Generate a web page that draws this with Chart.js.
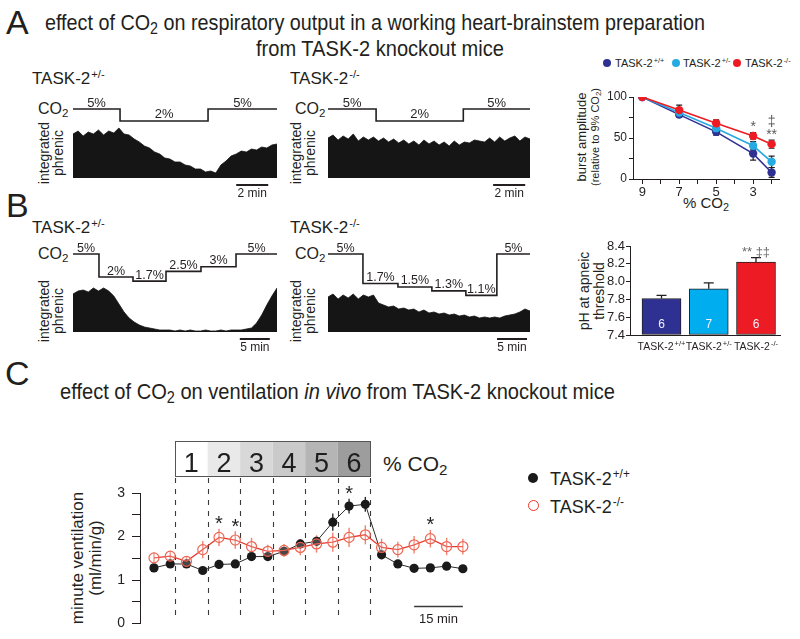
<!DOCTYPE html>
<html><head><meta charset="utf-8">
<script src="https://cdn.jsdelivr.net/npm/chart.js@4.4.1/dist/chart.umd.min.js"></script>
<style>
html,body{margin:0;padding:0;background:#fff;}
#fig{position:relative;width:800px;height:639px;overflow:hidden;background:#fff;font-family:"Liberation Sans",Arial,Helvetica,sans-serif;color:#231f20;}
.t{position:absolute;white-space:nowrap;line-height:1;}
.nar{font-family:"Liberation Sans Narrow","Liberation Sans",Arial,sans-serif;}
canvas{position:absolute;}
.sup{font-size:0.66em;position:relative;top:-0.55em;margin-left:1px;}
.sub{font-size:0.72em;position:relative;top:0.28em;}
.rot{position:absolute;white-space:nowrap;text-align:center;transform:translate(-50%,-50%) rotate(-90deg);}
.dot{position:absolute;border-radius:50%;box-sizing:border-box;}
</style></head><body><div id="fig">

<div class="t" style="left:6px;top:5px;font-size:34px;">A</div>
<div class="t nar fit" data-w="660" style="left:45px;top:12px;font-size:22px;">effect of CO<span class="sub">2</span> on respiratory output in a working heart-brainstem preparation</div>
<div class="t nar fit" data-w="248" style="left:256px;top:38px;font-size:22px;">from TASK-2 knockout mice</div>

<div class="t" style="left:32px;top:70px;font-size:17px;">TASK-2<span class="sup">+/-</span></div>
<div class="t" style="left:290px;top:70px;font-size:17px;">TASK-2<span class="sup">-/-</span></div>
<div class="t" style="left:38px;top:101px;font-size:16px;">CO<span class="sub">2</span></div>
<div class="t" style="left:295px;top:101px;font-size:16px;">CO<span class="sub">2</span></div>
<div class="rot" style="left:51px;top:153px;font-size:14px;line-height:14px;">integrated<br>phrenic</div>
<div class="rot" style="left:303px;top:153px;font-size:14px;line-height:14px;">integrated<br>phrenic</div>

<div class="dot" style="left:603px;top:59px;width:8px;height:8px;background:#2E3192"></div>
<div class="t" style="left:615px;top:58px;font-size:11px;">TASK-2<span class="sup">+/+</span></div>
<div class="dot" style="left:672px;top:59px;width:8px;height:8px;background:#27AAE1"></div>
<div class="t" style="left:683px;top:58px;font-size:11px;">TASK-2<span class="sup">+/-</span></div>
<div class="dot" style="left:733px;top:59px;width:8px;height:8px;background:#ED1C24"></div>
<div class="t" style="left:745px;top:58px;font-size:11px;">TASK-2<span class="sup">-/-</span></div>
<div class="rot" style="left:589px;top:137px;"><div style="font-size:13px;line-height:14px">burst amplitude</div><div style="font-size:11px;line-height:12px">(relative to 9% CO<span class="sub">2</span>)</div></div>
<div class="t" style="left:646px;width:120px;text-align:center;top:195px;font-size:15px;">% CO<span class="sub">2</span></div>

<div class="t" style="left:6px;top:188px;font-size:34px;">B</div>
<div class="t" style="left:32px;top:219px;font-size:17px;">TASK-2<span class="sup">+/-</span></div>
<div class="t" style="left:290px;top:219px;font-size:17px;">TASK-2<span class="sup">-/-</span></div>
<div class="t" style="left:38px;top:246px;font-size:16px;">CO<span class="sub">2</span></div>
<div class="t" style="left:295px;top:246px;font-size:16px;">CO<span class="sub">2</span></div>
<div class="rot" style="left:51px;top:311px;font-size:14px;line-height:14px;">integrated<br>phrenic</div>
<div class="rot" style="left:303px;top:311px;font-size:14px;line-height:14px;">integrated<br>phrenic</div>
<div class="rot" style="left:592px;top:291px;font-size:14px;line-height:15px;">pH at apneic<br>threshold</div>

<div class="t" style="left:5px;top:356px;font-size:34px;">C</div>
<div class="t nar fit" data-w="555" style="left:60px;top:381px;font-size:22px;">effect of CO<span class="sub">2</span> on ventilation <i>in vivo</i> from TASK-2 knockout mice</div>
<div class="t" style="left:383px;top:453px;font-size:21px;">% CO<span class="sub">2</span></div>
<div class="rot" style="left:87px;top:558px;font-size:17px;line-height:18px;">minute ventilation<br>(ml/min/g)</div>
<div class="dot" style="left:528px;top:473px;width:10px;height:10px;background:#1a1a1a"></div>
<div class="t nar" style="left:550px;top:470px;font-size:18px;">TASK-2<span class="sup">+/+</span></div>
<div class="dot" style="left:528px;top:500px;width:11px;height:11px;border:1.6px solid #E8352B;background:#fff"></div>
<div class="t nar" style="left:550px;top:498px;font-size:18px;">TASK-2<span class="sup">-/-</span></div>

<canvas id="aHet" width="230" height="112" style="left:60px;top:88px"></canvas>
<canvas id="aKo" width="228" height="112" style="left:315px;top:88px"></canvas>
<canvas id="bHet" width="230" height="119" style="left:60px;top:235px"></canvas>
<canvas id="bKo" width="228" height="119" style="left:315px;top:235px"></canvas>
<canvas id="aLine" width="200" height="130" style="left:585px;top:85px"></canvas>
<canvas id="bBar" width="200" height="125" style="left:585px;top:236px"></canvas>
<canvas id="cLine" width="385" height="209" style="left:100px;top:430px"></canvas>
</div>
<script>
// ================= DATA =================
// Panel A traces: integrated phrenic envelope (a.u.), CO2 protocol (segment edges in min, % levels)
const aHetTrace = [44,47,42,46,44,48,43,47,45,50,44,43,39,36,32,30,26,24,20,19,16,16,13,12,9,9,6,7,5,13,17,22,24,27,26,29,28,31,30,33,34];
const aKoTrace  = [40,43,38,42,39,44,37,41,38,41,37,40,36,39,35,38,34,37,33,38,34,37,33,36,32,37,33,36,35,38,37,36,40,36,41,37,40,42,37,41,39];
const aHetCO2Times  = [0, 2.94, 8.44, 12.75];
const aHetCO2Levels = [5, 2, 5];
const aKoCO2Times   = [0, 3.0, 8.44, 12.6];
const aKoCO2Levels  = [5, 2, 5];
// Panel B traces
const bHetTrace = [38,41,42,40,44,41,44,41,36,28,20,14,10,7,5,4,3,2,2,2,1,2,1,2,1,1,2,1,1,2,1,2,2,2,3,4,9,17,27,36,44];
const bKoTrace  = [35,38,33,37,34,38,33,37,35,37,29,27,25,26,23,24,22,23,20,22,19,20,18,19,17,18,16,17,15,16,14,15,14,15,14,16,17,18,20,23,21];
const bHetCO2Times  = [0, 4.33, 10, 15.5, 21.33, 27.17, 34];
const bHetCO2Levels = [5, 2, 1.7, 2.5, 3, 5];
const bKoCO2Times   = [0, 5.83, 11.67, 17.33, 23, 28.17, 33.7];
const bKoCO2Levels  = [5, 1.7, 1.5, 1.3, 1.1, 5];

// Panel A right: burst amplitude (% of 9% CO2)
const co2Pct   = [9, 7, 5, 3, 2];
const co2TickVals = [2, 3, 4, 5, 6, 7, 8, 9];
const ampWT    = [100, 78.5, 57.5, 31, 8];
const ampWTErr = [0, 3, 4, 8, 6];
const ampHet   = [100, 81, 62, 40.5, 21];
const ampHetErr= [0, 4, 4, 5, 7];
const ampKO    = [100, 84, 68, 52.5, 42.5];
const ampKOErr = [0, 6, 4, 4, 5];
const ampTicks = [0, 25, 50, 75, 100];
const sigA     = [[], [], [], ['*'], ['**', '\u2021']];

// Panel B right: pH at apneic threshold
const genoBase  = ['TASK-2', 'TASK-2', 'TASK-2'];
const genoSup   = ['+/+', '+/-', '-/-'];
const phThresh  = [7.81, 7.92, 8.22];
const phErr     = [0.035, 0.065, 0.05];
const nAnimals  = ['6', '7', '6'];
const sigB      = ['', '', '** \u2021\u2021'];
const phTicks   = [7.4, 7.6, 7.8, 8.0, 8.2, 8.4];

// Panel C: minute ventilation in vivo
const timeC    = [0,5,10,15,20,25,30,35,40,45,50,55,60,65,70,75,80,85,90,95];
const veWT     = [1.28,1.37,1.37,1.22,1.36,1.37,1.54,1.54,1.66,1.83,1.89,2.33,2.70,2.74,1.58,1.37,1.27,1.28,1.32,1.26];
const veWTErr  = [0.05,0.05,0.05,0.05,0.05,0.05,0.06,0.06,0.08,0.1,0.12,0.2,0.17,0.17,0.1,0.06,0.05,0.05,0.06,0.05];
const veKO     = [1.51,1.55,1.43,1.70,1.98,1.92,1.77,1.66,1.68,1.75,1.83,1.87,1.98,2.04,1.75,1.70,1.81,1.95,1.77,1.77];
const veKOErr  = [0.12,0.12,0.1,0.2,0.2,0.2,0.2,0.15,0.15,0.18,0.2,0.22,0.22,0.22,0.2,0.18,0.2,0.2,0.2,0.18];
const sigC     = ['','','','','*','*','','','','','','','*','','','','','*','',''];
const co2StepLabels = ['1','2','3','4','5','6'];
const co2StepEdges  = [6.5, 16.5, 26.5, 36.5, 46.5, 56.5, 66.5];
const co2StepShades = ['#ffffff','#e9e9e9','#d8d8d8','#cacaca','#b5b5b5','#9d9d9d'];
const veTicks  = [0, 0.5, 1, 1.5, 2, 2.5, 3];

// ================= STYLE =================
const INK = '#231f20';
const FONT = '"Liberation Sans", Arial, sans-serif';
Chart.defaults.font.family = FONT;
Chart.defaults.color = INK;
const baseOpts = () => ({responsive:false, animation:false, devicePixelRatio:1, events:[],
  plugins:{legend:{display:false}, tooltip:{enabled:false}}});

// fit titles to measured widths
document.querySelectorAll('.fit').forEach(el => {
  const w = el.getBoundingClientRect().width, tw = +el.dataset.w;
  el.style.transformOrigin = 'left top';
  el.style.transform = 'scaleX(' + (tw / w) + ')';
});

// ================= TRACES =================
function traceChart(id, amp, times, levels, cfg) {
  const steps = levels.map((v, i) => ({x: times[i], y: v}));
  steps.push({x: times[times.length - 1], y: levels[levels.length - 1]});
  const o = baseOpts();
  o.layout = {padding: cfg.pad};
  o.scales = {
    xs: {type:'category', display:false, offset:false},
    xt: {type:'linear', display:false, min:0, max:times[times.length - 1]},
    ya: {type:'linear', display:false, min:0, max:cfg.ampMax},
    yc: {type:'logarithmic', display:false, min:cfg.co2Min, max:cfg.co2Max}
  };
  new Chart(document.getElementById(id), {
    type:'line',
    data:{labels: amp.map((_, i) => i), datasets:[
      {data: steps, xAxisID:'xt', yAxisID:'yc', stepped:'before', fill:false, borderColor:INK, borderWidth:1.6, pointRadius:0},
      {data: amp, xAxisID:'xs', yAxisID:'ya', fill:'origin', backgroundColor:'#151515', borderColor:'#151515', borderWidth:0.8, pointRadius:0, tension:0}
    ]},
    options:o,
    plugins:[{id:'traceAnn', afterDatasetsDraw(chart) {
      const c = chart.ctx, xt = chart.scales.xt, yc = chart.scales.yc, ca = chart.chartArea;
      c.save();
      c.fillStyle = INK; c.textAlign = 'center'; c.textBaseline = 'alphabetic';
      c.font = cfg.pctFont;
      levels.forEach((v, i) => {
        const xm = (xt.getPixelForValue(times[i]) + xt.getPixelForValue(times[i + 1])) / 2;
        c.fillText(v + '%', xm, yc.getPixelForValue(v) - 2.5);
      });
      const x1 = xt.getPixelForValue(cfg.barEnd - cfg.barLen), x2 = xt.getPixelForValue(cfg.barEnd), yb = ca.bottom + 7;
      c.strokeStyle = INK; c.lineWidth = 2;
      c.beginPath(); c.moveTo(x1, yb); c.lineTo(x2, yb); c.stroke();
      c.font = '12px ' + FONT;
      c.fillText(cfg.barLen + ' min', (x1 + x2) / 2, yb + 11.5);
      c.restore();
    }}]
  });
}
traceChart('aHet', aHetTrace, aHetCO2Times, aHetCO2Levels,
  {pad:{left:13,right:13,top:7,bottom:22}, ampMax:83, co2Min:0.0257, co2Max:14.57, barLen:2, barEnd:12.2, pctFont:'13px ' + FONT});
traceChart('aKo', aKoTrace, aKoCO2Times, aKoCO2Levels,
  {pad:{left:13,right:13,top:7,bottom:22}, ampMax:83, co2Min:0.0257, co2Max:14.57, barLen:2, barEnd:12.3, pctFont:'13px ' + FONT});
traceChart('bHet', bHetTrace, bHetCO2Times, bHetCO2Levels,
  {pad:{left:13,right:13,top:10,bottom:22}, ampMax:87, co2Min:0.2236, co2Max:7.157, barLen:5, barEnd:32.8, pctFont:'12.5px ' + FONT});
traceChart('bKo', bKoTrace, bKoCO2Times, bKoCO2Levels,
  {pad:{left:13,right:13,top:10,bottom:22}, ampMax:87, co2Min:0.2886, co2Max:6.949, barLen:5, barEnd:33.2, pctFont:'12.5px ' + FONT});

// ================= A: burst amplitude =================
(function () {
  const series = [
    {vals: ampKO, err: ampKOErr, col: '#ED1C24'},
    {vals: ampHet, err: ampHetErr, col: '#27AAE1'},
    {vals: ampWT, err: ampWTErr, col: '#2E3192'}
  ];
  const o = baseOpts();
  o.layout = {padding:{top:12, right:6, left:0, bottom:0}};
  o.scales = {
    x: {type:'linear', reverse:true, min:1.6, max:9.5, offset:false,
        afterBuildTicks(s) { s.ticks = co2TickVals.map(v => ({value:v})); },
        ticks:{callback:v => (v % 2 === 1 ? String(v) : ''), font:{size:13}, padding:1, color:INK, maxRotation:0, autoSkip:false},
        grid:{display:true, drawOnChartArea:false, drawTicks:true, tickLength:5, color:INK, lineWidth:1},
        border:{display:true, color:INK, width:1},
        afterFit(s) { s.height = 36; }},
    y: {type:'linear', min:0, max:100,
        afterBuildTicks(s) { s.ticks = ampTicks.map(v => ({value:v})); },
        ticks:{callback:v => (v % 50 === 0 ? String(v) : ''), font:{size:12}, padding:2, color:INK, autoSkip:false},
        grid:{display:true, drawOnChartArea:false, drawTicks:true, tickLength:4, color:INK, lineWidth:1},
        border:{display:true, color:INK, width:1},
        afterFit(s) { s.width = 48; }}
  };
  new Chart(document.getElementById('aLine'), {
    type:'line',
    data:{datasets: series.map(s => ({
      data: co2Pct.map((x, i) => ({x, y: s.vals[i]})),
      borderColor: s.col, backgroundColor: s.col, pointBackgroundColor: s.col,
      pointRadius: 4.2, pointBorderWidth: 0, borderWidth: 1.6, tension: 0
    }))},
    options:o,
    plugins:[{id:'errA', beforeDatasetsDraw(chart) {
      const c = chart.ctx, xs = chart.scales.x, ys = chart.scales.y;
      c.save(); c.strokeStyle = INK; c.lineWidth = 1.2;
      series.forEach(s => s.vals.forEach((v, i) => {
        if (!s.err[i]) return;
        const x = xs.getPixelForValue(co2Pct[i]), y1 = ys.getPixelForValue(v - s.err[i]), y2 = ys.getPixelForValue(v + s.err[i]);
        c.beginPath(); c.moveTo(x, y1); c.lineTo(x, y2);
        c.moveTo(x - 3, y1); c.lineTo(x + 3, y1); c.moveTo(x - 3, y2); c.lineTo(x + 3, y2); c.stroke();
      }));
      c.restore();
    }, afterDatasetsDraw(chart) {
      const c = chart.ctx, xs = chart.scales.x, ys = chart.scales.y;
      c.save(); c.fillStyle = '#5a5a5a'; c.textAlign = 'center'; c.font = '14px ' + FONT;
      sigA.forEach((marks, i) => {
        if (!marks.length) return;
        const top = Math.max(...series.map(s => s.vals[i] + s.err[i]));
        const x = xs.getPixelForValue(co2Pct[i]);
        let yc = ys.getPixelForValue(top) - 9;
        marks.forEach(m => {
          const isStar = m.indexOf('*') >= 0;
          c.fillText(m, x, yc + (isStar ? 0.55 * 14 : 0.3 * 14));
          yc -= 9;
        });
      });
      c.restore();
    }}]
  });
})();

// ================= B: pH at apneic threshold =================
(function () {
  const cols = ['#2E3192', '#00AEEF', '#ED1C24'];
  const o = baseOpts();
  o.layout = {padding:{top:10, right:5, left:0, bottom:0}};
  o.scales = {
    x: {type:'linear', min:0.333, max:3.508, offset:false,
        ticks:{display:false}, grid:{display:false, offset:false},
        border:{display:true, color:INK, width:1},
        afterFit(s) { s.height = 26; }},
    y: {type:'linear', min:7.4, max:8.4,
        afterBuildTicks(s) { s.ticks = phTicks.map(v => ({value:v})); },
        ticks:{callback:v => Number(v).toFixed(1), font:{size:13}, padding:1, color:INK, autoSkip:false},
        grid:{display:true, drawOnChartArea:false, drawTicks:true, tickLength:4, color:INK, lineWidth:1},
        border:{display:true, color:INK, width:1},
        afterFit(s) { s.width = 45; }}
  };
  new Chart(document.getElementById('bBar'), {
    type:'bar',
    data:{datasets:[{data: phThresh.map((v, i) => ({x: i + 1, y: v})), base: 7.4,
      backgroundColor: cols, borderColor: INK, borderWidth: 1, borderSkipped: false, barThickness: 39}]},
    options:o,
    plugins:[{id:'barAnn', afterDatasetsDraw(chart) {
      const c = chart.ctx, xs = chart.scales.x, ys = chart.scales.y, ca = chart.chartArea;
      c.save();
      c.strokeStyle = INK; c.lineWidth = 1.3;
      phThresh.forEach((v, i) => {
        const x = xs.getPixelForValue(i + 1), y1 = ys.getPixelForValue(v), y2 = ys.getPixelForValue(v + phErr[i]);
        c.beginPath(); c.moveTo(x, y1); c.lineTo(x, y2); c.moveTo(x - 5, y2); c.lineTo(x + 5, y2); c.stroke();
      });
      c.textAlign = 'center';
      c.fillStyle = '#f4f2ff'; c.font = '12px ' + FONT;
      nAnimals.forEach((n, i) => c.fillText(n, xs.getPixelForValue(i + 1), ys.getPixelForValue(7.4) - 7));
      c.fillStyle = '#6a6a6a'; c.font = '13px ' + FONT;
      sigB.forEach((m, i) => { if (m) c.fillText(m, xs.getPixelForValue(i + 1), ys.getPixelForValue(phThresh[i] + phErr[i]) - 2); });
      c.fillStyle = INK;
      genoBase.forEach((g, i) => {
        const x = xs.getPixelForValue(i + 1);
        c.font = '10.5px ' + FONT; const w1 = c.measureText(g).width;
        c.font = '7.5px ' + FONT; const w2 = c.measureText(genoSup[i]).width;
        const x0 = x - (w1 + w2 + 1) / 2, yb = ca.bottom + 15;
        c.textAlign = 'left';
        c.font = '10.5px ' + FONT; c.fillText(g, x0, yb);
        c.font = '7.5px ' + FONT; c.fillText(genoSup[i], x0 + w1 + 1, yb - 4.5);
      });
      c.restore();
    }}]
  });
})();

// ================= C: minute ventilation =================
(function () {
  const o = baseOpts();
  o.layout = {padding:{top:63, right:5, left:0, bottom:12}};
  o.scales = {
    x: {type:'linear', display:false, min:-4.3, max:99.9},
    y: {type:'linear', min:0, max:3,
        afterBuildTicks(s) { s.ticks = veTicks.map(v => ({value:v})); },
        ticks:{callback:v => (Number.isInteger(v) ? String(v) : ''), font:{size:14}, padding:7, color:INK, autoSkip:false},
        grid:{display:true, drawOnChartArea:false, drawTicks:true, tickLength:8, color:INK, lineWidth:1},
        border:{display:true, color:INK, width:1},
        afterFit(s) { s.width = 40; }}
  };
  new Chart(document.getElementById('cLine'), {
    type:'line',
    data:{datasets:[
      {data: timeC.map((t, i) => ({x:t, y:veKO[i]})), borderColor:'#E5382C', borderWidth:1.3, tension:0,
       pointRadius:5, pointBackgroundColor:'rgba(255,255,255,0.2)', pointBorderColor:'#EE6452', pointBorderWidth:1.2},
      {data: timeC.map((t, i) => ({x:t, y:veWT[i]})), borderColor:'#2a2a2a', borderWidth:1, tension:0,
       pointRadius:4.6, pointBackgroundColor:'#1a1a1a', pointBorderWidth:0}
    ]},
    options:o,
    plugins:[{id:'cAnn', beforeDatasetsDraw(chart) {
      const c = chart.ctx, xs = chart.scales.x, ys = chart.scales.y, ca = chart.chartArea;
      c.save();
      c.strokeStyle = '#3a3a3a'; c.lineWidth = 1.1; c.setLineDash([5, 6]);
      co2StepEdges.forEach(t => {
        const x = Math.round(xs.getPixelForValue(t)) + 0.5;
        c.beginPath(); c.moveTo(x, ca.top - 15); c.lineTo(x, ca.bottom - 4); c.stroke();
      });
      c.setLineDash([]);
      c.lineWidth = 1.4;
      c.strokeStyle = '#2a2a2a';
      veWT.forEach((v, i) => { const x = xs.getPixelForValue(timeC[i]); c.beginPath(); c.moveTo(x, ys.getPixelForValue(v - veWTErr[i])); c.lineTo(x, ys.getPixelForValue(v + veWTErr[i])); c.stroke(); });
      c.strokeStyle = '#F0826F';
      veKO.forEach((v, i) => { const x = xs.getPixelForValue(timeC[i]); c.beginPath(); c.moveTo(x, ys.getPixelForValue(v - veKOErr[i])); c.lineTo(x, ys.getPixelForValue(v + veKOErr[i])); c.stroke(); });
      c.restore();
    }, afterDatasetsDraw(chart) {
      const c = chart.ctx, xs = chart.scales.x, ys = chart.scales.y, ca = chart.chartArea;
      c.save();
      const bt = ca.top - 52, bb = ca.top - 17;
      co2StepLabels.forEach((lab, i) => {
        const x1 = xs.getPixelForValue(co2StepEdges[i]), x2 = xs.getPixelForValue(co2StepEdges[i + 1]);
        c.fillStyle = co2StepShades[i]; c.fillRect(x1, bt, x2 - x1, bb - bt);
        c.fillStyle = '#1e1e1e'; c.font = '27px ' + FONT; c.textAlign = 'center';
        c.fillText(lab, (x1 + x2) / 2, bb - 4);
      });
      const xa = xs.getPixelForValue(co2StepEdges[0]), xb = xs.getPixelForValue(co2StepEdges[co2StepEdges.length - 1]);
      c.strokeStyle = '#555'; c.lineWidth = 1; c.strokeRect(Math.round(xa) + 0.5, bt + 0.5, Math.round(xb - xa), bb - bt);
      c.fillStyle = INK; c.font = '20px ' + FONT; c.textAlign = 'center';
      sigC.forEach((m, i) => {
        if (!m) return;
        const top = Math.max(veWT[i] + veWTErr[i], veKO[i] + veKOErr[i]);
        c.fillText(m, xs.getPixelForValue(timeC[i]), ys.getPixelForValue(top) - 10 + 0.57 * 20);
      });
      const tEnd = timeC[timeC.length - 1];
      const x1 = xs.getPixelForValue(tEnd - 15), x2 = xs.getPixelForValue(tEnd), yb = ca.bottom - 17;
      c.strokeStyle = '#3a3a3a'; c.lineWidth = 1.5;
      c.beginPath(); c.moveTo(x1, yb); c.lineTo(x2, yb); c.stroke();
      c.font = '13px ' + FONT; c.fillText('15 min', (x1 + x2) / 2, ca.bottom - 0.5);
      c.restore();
    }}]
  });
})();
</script>
</body></html>
